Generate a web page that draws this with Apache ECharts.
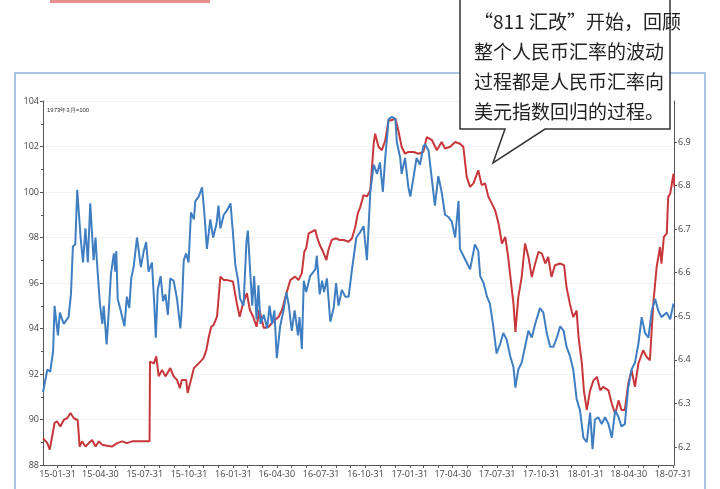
<!DOCTYPE html>
<html>
<head>
<meta charset="utf-8">
<script src="https://cdn.jsdelivr.net/npm/echarts@6/dist/echarts.min.js"></script>
<style>body{margin:0;background:#fff}#chart{width:720px;height:489px}</style>
</head>
<body>
<div id="chart"></div>
<script>
// days counted from 2015-01-01
var blueDays = [0,9,15,21,24,26,31,35,43,53,58,62,67,71,78,83,88,93,98,105,109,112,118,123,126,132,136,141,147,150,152,155,161,169,174,179,183,188,195,199,203,209,214,219,226,231,234,238,244,249,254,259,264,271,278,285,288,292,297,302,307,313,316,323,330,335,340,347,353,360,364,368,375,382,389,394,399,404,409,416,422,425,429,434,438,443,447,451,458,465,470,475,480,485,492,499,505,510,516,522,529,532,537,541,546,554,565,568,574,579,583,589,596,603,608,613,620,627,634,641,650,657,
  665,672,679,686,693,699,705,710,717,724,731,734,741,744,751,758,762,769,775,782,789,793,800,807,813,820,827,834,841,848,855,862,865,872,879,886,896,903,907,914,921,927,934,941,948,955,962,969,976,980,986,993,1000,1007,1014,1021,1031,1038,1045,1052,1059,1066,1073,1080,1086,1093,1100,1107,1114,1121,1128,1135,1140,1145,1152,1159,1166,1173,1180,1187,1194,1200,1207,1214,1221,1228,1235,1242,1249,1256,1263,1270,1276,1283,1294,1301,1308];
var blueVals = [91.2,92.2,92.1,93.0,95.0,94.6,93.7,94.7,94.2,94.5,95.5,97.6,97.7,100.1,98.0,96.9,98.4,96.9,99.5,97.0,98.0,96.9,95.1,94.2,95.0,93.3,94.6,96.4,97.3,96.5,97.4,95.3,94.8,94.1,95.4,94.9,96.2,96.7,98.0,98.0,96.7,97.4,97.8,96.5,96.9,95.0,93.6,95.7,96.3,95.2,95.5,94.6,96.2,96.1,95.3,94.0,94.9,97.0,97.3,96.9,99.1,98.8,99.6,99.8,100.2,99.0,97.5,98.8,98.0,98.6,99.4,98.4,99.0,99.2,99.5,98.2,96.8,96.2,95.3,95.0,97.8,98.3,96.8,95.0,96.3,94.4,95.9,94.2,94.6,94.0,95.0,94.2,94.8,92.7,94.1,94.8,95.6,95.0,93.9,94.8,93.7,94.5,93.1,96.1,95.6,96.3,96.6,97.2,95.5,96.1,95.6,96.2,94.3,94.9,96.0,95.0,95.7,95.4,95.4,96.6,98.0,98.2,
  98.5,97.0,100.0,101.2,100.8,101.3,100.0,101.5,103.2,103.3,103.2,102.2,101.5,100.8,101.5,100.2,99.8,100.7,101.5,101.2,102.0,102.1,101.8,100.5,99.4,100.7,100.0,99.0,98.9,98.7,98.0,99.6,97.5,97.2,96.9,96.6,97.7,97.4,96.3,96.0,95.4,95.1,94.1,92.9,93.3,93.8,93.5,92.8,92.3,91.4,92.2,92.5,93.2,93.9,93.6,94.2,94.9,94.7,93.8,93.2,93.2,93.6,94.1,93.9,93.2,92.8,92.2,90.9,90.4,89.2,89.0,90.3,88.7,90.0,90.1,89.8,90.1,89.8,89.2,90.4,90.1,89.7,89.8,91.4,92.2,92.5,93.3,94.5,93.8,93.6,94.8,95.3,94.8,94.5,94.7,94.4,95.1];
var redDays = [0,9,14,19,24,29,36,43,50,57,64,72,76,81,88,95,102,109,116,123,133,143,154,164,174,185,202,221,222,230,235,240,247,254,264,271,278,284,288,292,297,300,306,313,323,333,339,344,349,354,361,368,375,382,394,402,408,415,423,429,436,443,449,458,468,478,489,496,503,513,523,530,537,542,546,551,558,565,568,574,581,588,592,599,608,615,624,634,641,648,653,658,
  665,672,679,686,689,696,703,710,717,724,731,737,744,751,758,769,779,789,796,807,817,827,834,845,855,865,872,879,886,893,903,910,917,924,931,938,945,952,959,965,972,976,980,986,993,1000,1007,1014,1021,1028,1035,1042,1048,1055,1062,1073,1081,1086,1093,1100,1107,1111,1118,1122,1128,1135,1142,1149,1156,1162,1173,1180,1187,1194,1200,1207,1214,1221,1228,1235,1245,1252,1259,1266,1273,1280,1283,1288,1294,1297,1301,1308,1310];
var redVals = [6.220,6.209,6.194,6.224,6.255,6.259,6.247,6.262,6.266,6.278,6.266,6.262,6.201,6.213,6.201,6.209,6.216,6.201,6.213,6.205,6.203,6.201,6.209,6.213,6.209,6.213,6.213,6.213,6.396,6.392,6.408,6.362,6.377,6.362,6.381,6.362,6.354,6.335,6.354,6.350,6.354,6.324,6.350,6.381,6.392,6.404,6.423,6.453,6.476,6.480,6.499,6.591,6.583,6.583,6.580,6.530,6.499,6.530,6.553,6.515,6.499,6.476,6.515,6.473,6.476,6.488,6.499,6.515,6.545,6.583,6.591,6.583,6.599,6.648,6.656,6.690,6.694,6.698,6.683,6.664,6.648,6.629,6.652,6.675,6.679,6.675,6.675,6.671,6.679,6.706,6.736,6.750,
  6.778,6.775,6.789,6.896,6.919,6.889,6.881,6.904,6.950,6.950,6.954,6.927,6.889,6.873,6.877,6.877,6.873,6.877,6.911,6.904,6.881,6.900,6.885,6.889,6.900,6.896,6.889,6.820,6.797,6.805,6.835,6.801,6.805,6.774,6.759,6.743,6.713,6.667,6.682,6.636,6.567,6.529,6.464,6.544,6.590,6.667,6.636,6.590,6.621,6.648,6.644,6.621,6.636,6.590,6.617,6.621,6.617,6.567,6.529,6.498,6.513,6.452,6.391,6.330,6.285,6.330,6.353,6.361,6.330,6.338,6.330,6.299,6.276,6.307,6.285,6.285,6.345,6.376,6.338,6.391,6.422,6.407,6.399,6.529,6.613,6.659,6.621,6.682,6.690,6.774,6.781,6.827,6.797];
var xLabels = ['15-01-31','15-04-30','15-07-31','15-10-31','16-01-31','16-04-30','16-07-31','16-10-31','17-01-31','17-04-30','17-07-31','17-10-31','18-01-31','18-04-30','18-07-31'];
var rightTicks = [6.2,6.3,6.4,6.5,6.6,6.7,6.8,6.9];
var noteLines = ['“811 汇改”开始，回顾', '整个人民币汇率的波动', '过程都是人民币汇率向', '美元指数回归的过程。'];

var base = Date.UTC(2015, 0, 1);
function toDay(s) {
    var p = s.split('-');
    return Math.round((Date.UTC(2000 + +p[0], +p[1] - 1, +p[2]) - base) / 86400000);
}
var labelDays = xLabels.map(toDay);
var labelMap = {};
labelDays.forEach(function (d, i) { labelMap[d] = xLabels[i]; });
var monthTicks = [];
for (var m = 1; m <= 43; m++) {
    monthTicks.push(Math.round((Date.UTC(2015, m, 1) - base) / 86400000) - 1);
}
function pairs(xs, ys) { return xs.map(function (x, i) { return [x, ys[i]]; }); }

var chart = echarts.init(document.getElementById('chart'));
var axisCol = '#555';
var option = {
    animation: false,
    grid: {left: 43, right: 46, top: 101, bottom: 24},
    xAxis: {
        type: 'value', min: 0, max: 1309,
        splitLine: {show: false},
        axisLine: {lineStyle: {color: axisCol}},
        axisTick: {customValues: monthTicks, length: 3, lineStyle: {color: axisCol}},
        axisLabel: {
            customValues: labelDays, fontSize: 9, color: '#444', margin: 5,
            fontFamily: 'Open Sans',
            formatter: function (v) { return labelMap[v] || ''; }
        }
    },
    yAxis: [{
        type: 'value', min: 88, max: 104, interval: 2,
        name: '1973年3月=100', nameLocation: 'end', nameGap: -6,
        nameTextStyle: {fontSize: 6, color: '#333', align: 'left', padding: [0, 0, 0, 4], verticalAlign: 'top'},
        axisLine: {show: true, lineStyle: {color: axisCol}},
        axisTick: {show: true, length: 3, lineStyle: {color: axisCol}},
        minorTick: {show: true, splitNumber: 2, length: 2, lineStyle: {color: axisCol}},
        axisLabel: {fontSize: 9, color: '#444', margin: 4, fontFamily: 'Open Sans'},
        splitLine: {lineStyle: {color: '#f2f2f2'}}
    }, {
        type: 'value', min: 6.1587, max: 6.994,
        position: 'right',
        axisLine: {show: true, lineStyle: {color: axisCol}},
        axisTick: {show: true, customValues: rightTicks, length: 3, lineStyle: {color: axisCol}},
        axisLabel: {customValues: rightTicks, fontSize: 9, color: '#444', margin: 4, fontFamily: 'Open Sans',
            formatter: function (v) { return v.toFixed(1); }},
        splitLine: {show: false}
    }],
    series: [{
        type: 'line', yAxisIndex: 1, data: pairs(redDays, redVals),
        symbol: 'none', lineStyle: {color: '#c8373b', width: 2}
    }, {
        type: 'line', yAxisIndex: 0, data: pairs(blueDays, blueVals),
        symbol: 'none', lineStyle: {color: '#3f7fc1', width: 2}
    }],
    graphic: [
        {type: 'rect', shape: {x: 15, y: 73, width: 690, height: 430}, style: {fill: 'none', stroke: '#8fb0d8', lineWidth: 1.5}, z: -1},
        {type: 'rect', shape: {x: 50, y: 0, width: 160, height: 3}, style: {fill: '#e89090'}},
        {type: 'polygon', shape: {points: [[460, -2], [670, -2], [670, 129], [545, 129], [493, 163], [505, 129], [460, 129]]},
            style: {fill: '#fff', stroke: '#333', lineWidth: 1.5}, z: 100},
        {type: 'text', left: 474, top: 7, z: 101,
            style: {text: noteLines.join('\n'), fontSize: 19, lineHeight: 30, fill: '#222', fontFamily: 'Noto Sans CJK SC'}}
    ]
};
chart.setOption(option);
</script>
</body>
</html>
